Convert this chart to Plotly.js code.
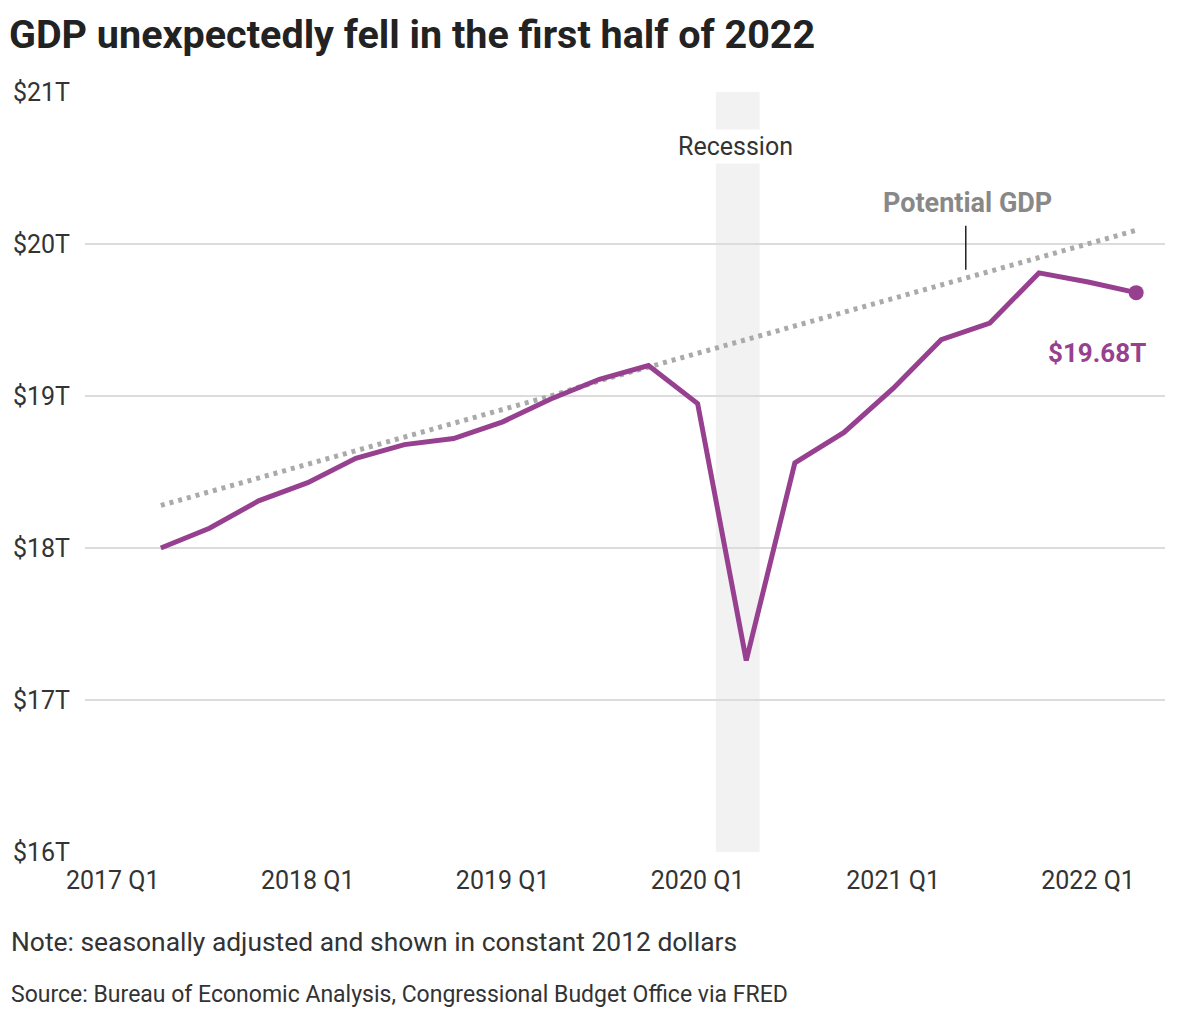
<!DOCTYPE html>
<html>
<head>
<meta charset="utf-8">
<script src="https://cdn.plot.ly/plotly-3.0.1.min.js"></script>
<style>html,body{margin:0;padding:0;background:#fff;}#chart{width:1180px;height:1020px;}</style>
</head>
<body>
<div id="chart"></div>
<script>
// Quarter start dates (2017 Q2 - 2022 Q2)
const quarters = ["2017-04-01","2017-07-01","2017-10-01","2018-01-01","2018-04-01","2018-07-01","2018-10-01",
  "2019-01-01","2019-04-01","2019-07-01","2019-10-01","2020-01-01","2020-04-01","2020-07-01","2020-10-01",
  "2021-01-01","2021-04-01","2021-07-01","2021-10-01","2022-01-01","2022-04-01"];
// Real GDP, trillions of 2012 dollars
const gdp = [18.00,18.13,18.31,18.43,18.59,18.68,18.72,18.83,18.98,19.11,19.20,18.95,17.26,18.56,18.76,
  19.05,19.37,19.48,19.81,19.75,19.68];
// Potential GDP (CBO), trillions of 2012 dollars
const potential = [18.28,18.37,18.46,18.55,18.64,18.73,18.82,18.91,19.00,19.10,19.19,19.28,19.37,19.46,19.55,
  19.64,19.73,19.82,19.91,20.00,20.09];
const tickDates = ["2017-01-01","2018-01-01","2019-01-01","2020-01-01","2021-01-01","2022-01-01"];
const tickLabels = ["2017 Q1","2018 Q1","2019 Q1","2020 Q1","2021 Q1","2022 Q1"];
const recession = ["2020-02-04","2020-04-26"];

const FONT = "Roboto, 'Liberation Sans', sans-serif";
const PURPLE = "#974090";

const traces = [
  {x: quarters, y: potential, type: "scatter", mode: "lines",
   line: {color: "#aaaaaa", width: 5, dash: "4px,5px"}, hoverinfo: "skip"},
  {x: quarters, y: gdp, type: "scatter", mode: "lines",
   line: {color: PURPLE, width: 5}, hoverinfo: "skip"},
  {x: [quarters[quarters.length-1]], y: [gdp[gdp.length-1]], type: "scatter", mode: "markers",
   marker: {color: PURPLE, size: 15}, hoverinfo: "skip"}
];

const layout = {
  width: 1180, height: 1020,
  margin: {l: 85, r: 15, t: 92, b: 168},
  paper_bgcolor: "#fff", plot_bgcolor: "#fff",
  showlegend: false,
  font: {family: FONT, color: "#333", size: 25},
  title: {text: "<b>GDP unexpectedly fell in the first half of 2022</b>",
    font: {family: FONT, size: 39.5, color: "#222"},
    xref: "container", yref: "container", x: 9/1180, xanchor: "left", y: 1 - 34/1020, yanchor: "middle"},
  xaxis: {type: "date", range: ["2016-11-10", "2022-05-25"],
    tickvals: tickDates, ticktext: tickLabels, showgrid: false, zeroline: false, showline: false,
    ticks: "outside", ticklen: 6, tickcolor: "rgba(0,0,0,0)", tickfont: {size: 25, color: "#333"}},
  yaxis: {range: [16, 21], dtick: 1, tick0: 16, tickprefix: "$", ticksuffix: "T",
    showgrid: true, gridcolor: "#dcdcdc", gridwidth: 1.5, zeroline: false, showline: false,
    ticks: "outside", ticklen: 9, tickcolor: "rgba(0,0,0,0)", tickfont: {size: 25, color: "#333"}},
  shapes: [
    {type: "rect", xref: "x", yref: "paper", x0: recession[0], x1: recession[1], y0: 0, y1: 1,
     fillcolor: "#f2f2f2", line: {width: 0}, layer: "below"},
    {type: "line", xref: "x", yref: "y", x0: "2021-05-17", x1: "2021-05-17", y0: 19.83, y1: 20.12,
     line: {color: "#222", width: 1.5}}
  ],
  annotations: [
    {text: "Recession", xref: "x", yref: "y", x: "2020-03-12", y: 20.64, showarrow: false,
     font: {size: 25, color: "#333"}, bgcolor: "#fff", borderpad: 2},
    {text: "<b>Potential GDP</b>", xref: "x", yref: "y", x: "2021-05-20", y: 20.27, showarrow: false,
     font: {size: 27, color: "#888"}},
    {text: "<b>$19.68T</b>", xref: "x", yref: "y", x: "2022-01-17", y: 19.28, showarrow: false,
     font: {size: 26, color: PURPLE}},
    {text: "Note: seasonally adjusted and shown in constant 2012 dollars", xref: "paper", yref: "paper",
     x: -76/1080, y: -90/760, xanchor: "left", yanchor: "middle", showarrow: false,
     font: {size: 26.4, color: "#333"}},
    {text: "Source: Bureau of Economic Analysis, Congressional Budget Office via FRED", xref: "paper", yref: "paper",
     x: -76/1080, y: -142/760, xanchor: "left", yanchor: "middle", showarrow: false,
     font: {size: 23, color: "#333"}}
  ]
};

Plotly.newPlot("chart", traces, layout, {displayModeBar: false, staticPlot: true});
</script>
</body>
</html>
